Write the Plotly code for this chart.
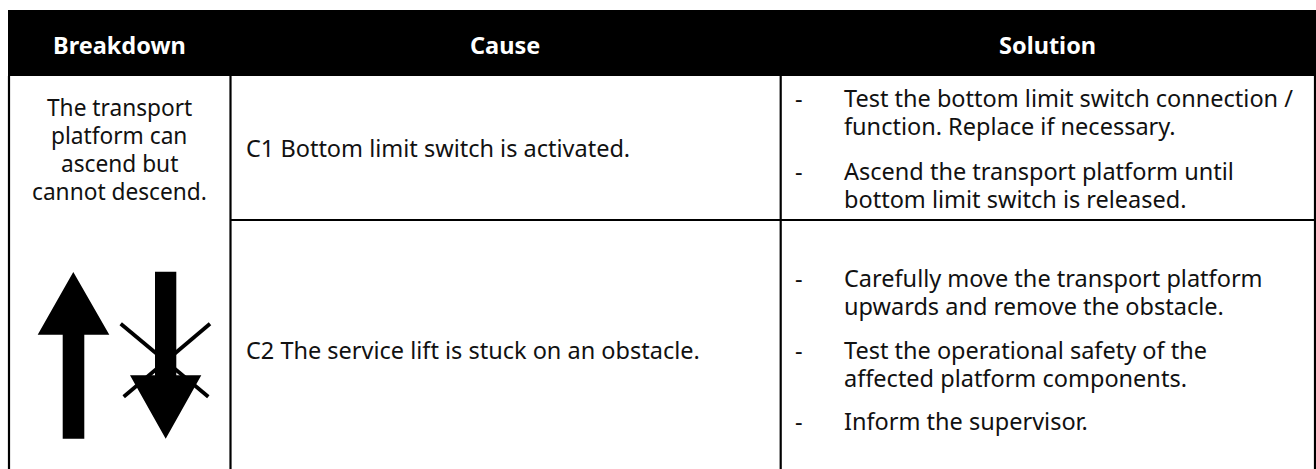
import plotly.graph_objects as go

# --- table content ---
headers = ["Breakdown", "Cause", "Solution"]
breakdown_lines = ["The transport", "platform can", "ascend but", "cannot descend."]
causes = ["C1 Bottom limit switch is activated.", "C2 The service lift is stuck on an obstacle."]
solution_lines = [
    "Test the bottom limit switch connection /",
    "function. Replace if necessary.",
    "Ascend the transport platform until",
    "bottom limit switch is released.",
    "Carefully move the transport platform",
    "upwards and remove the obstacle.",
    "Test the operational safety of the",
    "affected platform components.",
    "Inform the supervisor.",
]
solution_bullet_index = [0, 2, 4, 6, 8]

# --- layout geometry (page pixels) ---
W, H = 1316, 469
FONT = "Noto Sans"
SIZE = 23.5
COL1_SIZE = 22.7
HEAD_SIZE = 23.5
header_cx = [119, 505, 1047]
header_y = 45
breakdown_y = [107, 135, 163, 191]
cause_y = [148, 350]
solution_y = [98, 126, 171, 199, 278, 306, 350, 378, 421]
bullet_x, text_x, cause_x = 793, 841.5, 244

fig = go.Figure()

def poly(xs, ys):
    fig.add_trace(go.Scatter(x=xs, y=ys, mode="lines", fill="toself", fillcolor="#000000",
                             line=dict(color="#000000", width=0), hoverinfo="skip", showlegend=False))

def seg(xs, ys, w):
    fig.add_trace(go.Scatter(x=xs, y=ys, mode="lines", line=dict(color="#000000", width=w),
                             hoverinfo="skip", showlegend=False))

# header band and grid
poly([8, 1316, 1316, 8], [10, 10, 76, 76])
for x in (9, 230.5, 780.7, 1315):
    seg([x, x], [76, 469], 2.2)
seg([230.5, 1316], [220, 220], 2.2)

# icon: crossing lines, then arrows on top
seg([120.7, 208.3], [323.7, 396.7], 3.8)
seg([210, 123.7], [323.7, 396.7], 3.8)
poly([73.3, 109.3, 84.3, 84.3, 62.7, 62.7, 37.7], [272, 334.7, 334.7, 438.7, 438.7, 334.7, 334.7])
poly([155, 176.3, 176.3, 201.3, 165.7, 130, 155], [271.7, 271.7, 375.3, 375.3, 438.7, 375.3, 375.3])

def txt(x, y, s, anchor="left", color="#111111", bold=False, size=SIZE):
    fig.add_annotation(x=x, y=y, text=f"<b>{s}</b>" if bold else s, showarrow=False,
                       xanchor=anchor, yanchor="middle", xref="x", yref="y",
                       font=dict(family=FONT, size=size, color=color))

for cx, s in zip(header_cx, headers):
    txt(cx, header_y, s, "center", "#ffffff", True, HEAD_SIZE)
for y, s in zip(breakdown_y, breakdown_lines):
    txt(119, y, s, "center", size=COL1_SIZE)
for y, s in zip(cause_y, causes):
    txt(cause_x, y, s)
for i, (y, s) in enumerate(zip(solution_y, solution_lines)):
    txt(text_x, y, s)
    if i in solution_bullet_index:
        txt(bullet_x, y, "-")

fig.update_layout(width=W, height=H, margin=dict(l=0, r=0, t=0, b=0),
                  paper_bgcolor="#ffffff", plot_bgcolor="#ffffff", showlegend=False,
                  xaxis=dict(range=[0, W], visible=False, fixedrange=True),
                  yaxis=dict(range=[H, 0], visible=False, fixedrange=True))
fig.write_html("out.html", config={"displayModeBar": False},
               post_script="document.body.style.margin='0';")
